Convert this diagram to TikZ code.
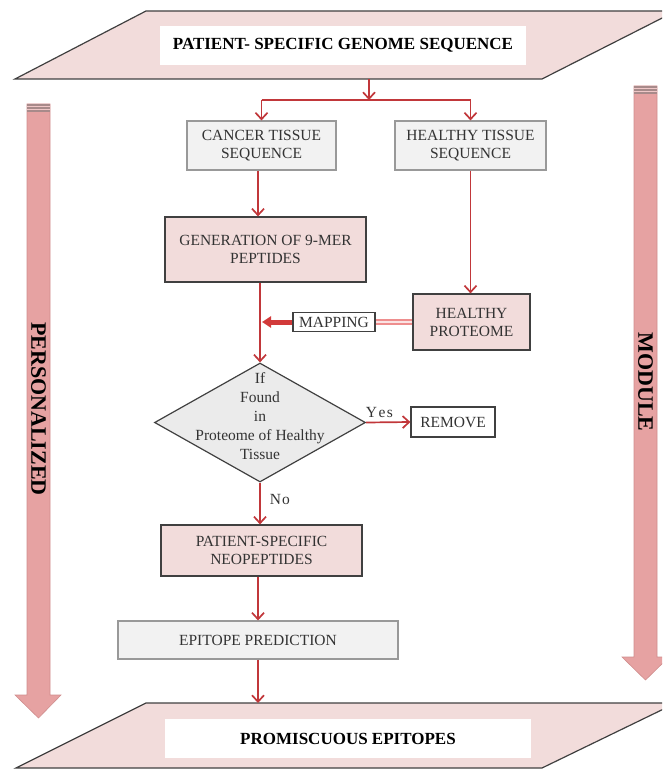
\documentclass[tikz,border=0pt]{standalone}
\usepackage{fontspec}
\setmainfont{Liberation Serif}
\usetikzlibrary{shapes.geometric,arrows.meta}
\definecolor{pinkfill}{HTML}{F2DCDB}
\definecolor{grayfill}{HTML}{F2F2F2}
\definecolor{diafill}{HTML}{EBEBEB}
\definecolor{edgedark}{HTML}{404040}
\definecolor{edgegray}{HTML}{999999}
\definecolor{linered}{HTML}{C1373A}
\definecolor{sidepink}{HTML}{E6A2A2}
\definecolor{sideedge}{HTML}{D08E8E}
\definecolor{capgray}{HTML}{A88A8A}
\definecolor{maplight}{HTML}{EE8E8E}
\definecolor{mapdark}{HTML}{D23A3A}
\definecolor{txt}{HTML}{333333}
\begin{document}
\begin{tikzpicture}[x=1pt,y=-1pt,
  every node/.style={font=\fontsize{15.5}{18}\selectfont, text=txt, inner sep=0pt, align=center},
  graybox/.style={draw=edgegray, fill=grayfill, line width=1.1pt},
  pinkbox/.style={draw=edgedark, fill=pinkfill, line width=1.2pt},
  whitebox/.style={draw=edgedark, fill=white, line width=1.2pt},
  titlebox/.style={fill=white, text=black, font=\fontsize{17}{20}\selectfont\bfseries},
  flow/.style={draw=linered, line width=1.7pt, -{Straight Barb[length=6.5pt,width=12pt]}},
  plainline/.style={draw=linered, line width=1.7pt},
  para/.style={draw=edgedark, fill=pinkfill, line width=1.2pt},
  side/.style={fill=sidepink, draw=sideedge, line width=0.6pt},
  sidelabel/.style={rotate=-90, text=black, font=\fontsize{22}{26}\selectfont\bfseries},
]
\useasboundingbox (0,0) rectangle (662,770);
\clip (0,0) rectangle (662,770);

% parallelograms
\draw[para] (146,11) -- (676,11) -- (542,79) -- (15,79) -- cycle;
\draw[para] (146,703) -- (676,703) -- (542,768) -- (16,768) -- cycle;

% side arrows
\draw[side] (27,104) -- (50,104) -- (50,695) -- (61,695) -- (38.5,718) -- (15,695) -- (27,695) -- cycle;
\fill[capgray] (27,104) rectangle (50,112);
\draw[sidepink!60!white, line width=0.8pt] (27,106.5) -- (50,106.5) (27,109.5) -- (50,109.5);
\node[sidelabel] (lpers) at (38.5,409) {PERSONALIZED};

\draw[side] (634,86) -- (657,86) -- (657,657) -- (669,657) -- (645.5,680) -- (622,657) -- (634,657) -- cycle;
\fill[capgray] (634,86) rectangle (657,94);
\draw[sidepink!60!white, line width=0.8pt] (634,88.5) -- (657,88.5) (634,91.5) -- (657,91.5);
\node[sidelabel] (lmod) at (645.5,382) {MODULE};

% title boxes
\node[titlebox, minimum width=366pt, minimum height=39pt] (top) at (343,45.5) {PATIENT- SPECIFIC GENOME SEQUENCE};
\node[titlebox, minimum width=366pt, minimum height=39pt] (bottom) at (348,738.5) {PROMISCUOUS EPITOPES};
\coordinate (topb) at (369,79);
\coordinate (botp) at (257,703);

% boxes
\node[graybox, minimum width=149pt, minimum height=49pt] (cancer) at (261.5,145.5) {CANCER TISSUE\\SEQUENCE};
\node[graybox, minimum width=151pt, minimum height=49pt] (healthy) at (470.5,145.5) {HEALTHY TISSUE\\SEQUENCE};
\node[pinkbox, minimum width=201pt, minimum height=65pt] (gen) at (265.5,249.5) {GENERATION OF 9-MER\\PEPTIDES};
\node[pinkbox, minimum width=117pt, minimum height=56pt] (hp) at (471.5,322) {HEALTHY\\PROTEOME};
\node[whitebox, minimum width=82pt, minimum height=19pt] (map) at (334,322) {MAPPING};
\node[diamond, draw=edgedark, fill=diafill, line width=1.2pt, minimum width=211pt, minimum height=119pt] (dia) at (260,422.5) {};
\node[font=\fontsize{15.5}{19}\selectfont] (diatext) at (260,416.5) {If\\Found\\in\\Proteome of Healthy\\Tissue};
\node[whitebox, minimum width=84pt, minimum height=30pt] (remove) at (453,422) {REMOVE};
\node[pinkbox, minimum width=201pt, minimum height=51pt] (neo) at (261.5,550.5) {PATIENT-SPECIFIC\\NEOPEPTIDES};
\node[graybox, minimum width=280pt, minimum height=38pt] (epi) at (258,640) {EPITOPE PREDICTION};

% connectors
\coordinate (branch) at (369,100);
\draw[flow] (topb) -- (branch);
\draw[plainline] (cancer.north |- branch) -- (healthy.north |- branch);
\draw[flow] (cancer.north |- branch) -- (cancer.north);
\draw[flow] (healthy.north |- branch) -- (healthy.north);
\draw[flow] ([xshift=-3.5pt]cancer.south) -- ([xshift=-3.5pt]cancer.south |- gen.north);
\draw[flow] (healthy.south) -- (healthy.south |- hp.north);
\draw[flow] (dia.north |- gen.south) -- (dia.north);

% mapping arrow
\coordinate (mapend) at (262,322);
\draw[maplight, line width=6pt] (hp.west) -- (map.east);
\draw[white!75!maplight, line width=1.5pt] (hp.west) -- (map.east);
\draw[mapdark, line width=5pt, -{Triangle[length=9pt,width=11pt]}] (map.west) -- (mapend);

\draw[flow] (dia.east) -- (remove.west) node[pos=0.3, above=4pt] (yes) {Y\kern1.5pt e\kern1.5pt s};
\draw[flow] (dia.south) -- (dia.south |- neo.north) node[pos=0.4, right=9pt] (no) {N\kern1pt o};
\draw[flow] (neo.south -| epi.north) -- (epi.north);
\draw[flow] (epi.south) -- (epi.south |- botp);
\end{tikzpicture}
\end{document}
